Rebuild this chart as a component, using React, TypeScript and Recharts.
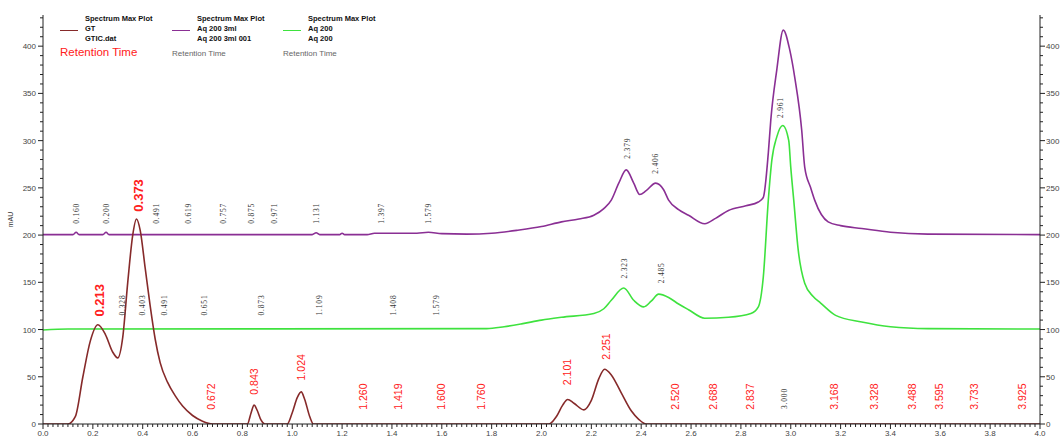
import React from 'react';
import { ComposedChart, Line, Scatter, XAxis, YAxis } from 'recharts';

// ---------- data ----------
const gtTime = [0, 0.10, 0.13, 0.16, 0.19, 0.22, 0.25, 0.28, 0.30, 0.32, 0.34, 0.36, 0.375, 0.39, 0.41, 0.43, 0.45, 0.47, 0.50, 0.53, 0.56, 0.60, 0.64, 0.68, 0.82, 0.835, 0.847, 0.86, 0.875, 0.89, 0.98, 1.0, 1.02, 1.036, 1.05, 1.07, 1.085, 2.03, 2.06, 2.085, 2.105, 2.13, 2.17, 2.2, 2.23, 2.253, 2.28, 2.32, 2.36, 2.39, 2.42, 4.0];
const gtValue = [0, 0, 8, 50, 88, 105, 95, 76, 70, 92, 150, 200, 217, 205, 165, 125, 90, 65, 44, 30, 19, 9, 3, 0, 0, 12, 20, 14, 4, 0, 0, 12, 28, 34, 26, 8, 0, 0, 8, 20, 26, 22, 15, 25, 48, 58, 52, 33, 14, 5, 0, 0];

const aq3mlTime = [0, 0.12, 0.133, 0.145, 0.24, 0.253, 0.265, 1.08, 1.096, 1.11, 1.19, 1.2, 1.21, 1.3, 1.33, 1.5, 1.546, 1.6, 1.7, 1.8, 1.9, 2.0, 2.08, 2.15, 2.21, 2.25, 2.28, 2.31, 2.34, 2.37, 2.394, 2.42, 2.458, 2.49, 2.51, 2.55, 2.59, 2.655, 2.7, 2.75, 2.82, 2.87, 2.89, 2.91, 2.92, 2.944, 2.97, 2.996, 3.016, 3.044, 3.056, 3.08, 3.096, 3.15, 3.2, 3.285, 3.4, 3.55, 4.0];
const aq3mlValue = [200.5, 200.5, 203, 200.5, 200.5, 203, 200.5, 200.5, 202.5, 200.5, 200.5, 202, 200.5, 200.5, 202, 202, 203, 201.5, 201, 202, 205, 209, 214, 217, 221, 228, 237, 255, 269, 255, 243, 247, 255, 248, 237, 227, 221, 212, 218, 226, 231, 235, 240, 287, 322, 375, 417, 396, 367, 311, 272, 250, 237, 214, 210, 207, 203, 201, 200.5];

const aq200Time = [0, 0.1, 1.78, 1.85, 1.92, 2.0, 2.08, 2.21, 2.25, 2.28, 2.33, 2.37, 2.41, 2.44, 2.47, 2.51, 2.55, 2.59, 2.655, 2.75, 2.84, 2.87, 2.89, 2.91, 2.924, 2.944, 2.968, 2.992, 3.0, 3.012, 3.03, 3.056, 3.09, 3.12, 3.18, 3.285, 3.4, 3.55, 4.0];
const aq200Value = [99.5, 100.5, 101, 103, 106, 110, 113, 117, 122, 131, 144, 131, 124, 130, 137.5, 134, 127, 121, 112, 113, 117, 124, 156, 237, 279, 304, 316, 300, 272, 237, 184, 149, 135, 128, 115, 108, 103, 101, 100.5];

const gtLabelTime = [0.225, 0.382, 0.675, 0.847, 1.036, 1.285, 1.426, 1.598, 1.759, 2.104, 2.26, 2.534, 2.687, 2.835, 3.173, 3.333, 3.486, 3.594, 3.735, 3.928];
const gtLabelValue = [131, 242, 29, 45, 60, 29, 29, 29, 29, 55, 82, 29, 29, 29, 29, 29, 29, 29, 29, 29];
const gtLabelText = ['0.213', '0.373', '0.672', '0.843', '1.024', '1.260', '1.419', '1.600', '1.760', '2.101', '2.251', '2.520', '2.688', '2.837', '3.168', '3.328', '3.488', '3.595', '3.733', '3.925'];
const gtBigLabels = ['0.213', '0.373'];

const aq3mlLabelTime = [0.133, 0.253, 0.454, 0.582, 0.723, 0.835, 0.928, 1.096, 1.357, 1.546, 2.345, 2.458, 2.96];
const aq3mlLabelValue = [223, 223, 223, 223, 223, 223, 223, 223, 223, 223, 292, 276, 335];
const aq3mlLabelText = ['0.160', '0.200', '0.491', '0.619', '0.757', '0.875', '0.971', '1.131', '1.397', '1.579', '2.379', '2.406', '2.961'];

const aq200LabelTime = [0.32, 0.40, 0.486, 0.647, 0.876, 1.108, 1.406, 1.578, 2.333, 2.482, 2.976];
const aq200LabelValue = [126, 126, 126, 126, 126, 126, 126, 126, 165, 160, 27];
const aq200LabelText = ['0.328', '0.403', '0.491', '0.651', '0.873', '1.109', '1.408', '1.579', '2.323', '2.485', '3.000'];

const xMajorTicks = [0, 0.2, 0.4, 0.6, 0.8, 1.0, 1.2, 1.4, 1.6, 1.8, 2.0, 2.2, 2.4, 2.6, 2.8, 3.0, 3.2, 3.4, 3.6, 3.8, 4.0];
const yMajorTicks = [0, 50, 100, 150, 200, 250, 300, 350, 400];
const xMinorStep = 0.02;
const yMinorStep = 10;

const seriesNames = [
  { title: 'Spectrum Max Plot', line1: 'GT', line2: 'GTIC.dat' },
  { title: 'Spectrum Max Plot', line1: 'Aq 200 3ml', line2: 'Aq 200 3ml 001' },
  { title: 'Spectrum Max Plot', line1: 'Aq 200', line2: 'Aq 200' },
];
const legendSubtitle = 'Retention Time';

// ---------- helpers ----------
const zip = (t: number[], v: number[]) => t.map((x, i) => ({ t: x, v: v[i] }));
const zipLabels = (t: number[], v: number[], s: string[]) => t.map((x, i) => ({ t: x, v: v[i], text: s[i] }));

const gtData = zip(gtTime, gtValue);
const aq3mlData = zip(aq3mlTime, aq3mlValue);
const aq200Data = zip(aq200Time, aq200Value);
const gtLabels = zipLabels(gtLabelTime, gtLabelValue, gtLabelText);
const aq3mlLabels = zipLabels(aq3mlLabelTime, aq3mlLabelValue, aq3mlLabelText);
const aq200Labels = zipLabels(aq200LabelTime, aq200LabelValue, aq200LabelText);

const xAllTicks: number[] = [];
for (let i = 0; i <= Math.round(4 / xMinorStep); i++) xAllTicks.push(Math.round(i * xMinorStep * 100) / 100);
const yAllTicks: number[] = [];
for (let v = 0; v <= 430; v += yMinorStep) yAllTicks.push(v);

const isMajorX = (v: number) => xMajorTicks.some((m) => Math.abs(m - v) < 1e-6);
const isMajorY = (v: number) => yMajorTicks.some((m) => Math.abs(m - v) < 1e-6);

const BROWN = '#862a2a';
const PURPLE = '#8a2f94';
const GREEN = '#3ee23e';
const RED = '#ff2020';
const AXIS = '#222';
const TICKTXT = '#444';
const FONT = '"Liberation Sans", Arial, sans-serif';

const XTick = (props: any) => {
  const { x, y, payload } = props;
  const major = isMajorX(payload.value);
  return (
    <g>
      <line x1={x} x2={x} y1={y} y2={y + (major ? 5 : 3)} stroke={AXIS} strokeWidth={1} />
      {major && (
        <text x={x} y={y + 12} textAnchor="middle" fontSize={8} fill={TICKTXT} fontFamily={FONT}>
          {payload.value.toFixed(1)}
        </text>
      )}
    </g>
  );
};

const YTickLeft = (props: any) => {
  const { x, y, payload } = props;
  const major = isMajorY(payload.value);
  return (
    <g>
      <line x1={x} x2={x - (major ? 5 : 3)} y1={y} y2={y} stroke={AXIS} strokeWidth={1} />
      {major && (
        <text x={x - 7} y={y + 3} textAnchor="end" fontSize={8} fill={TICKTXT} fontFamily={FONT}>
          {payload.value}
        </text>
      )}
    </g>
  );
};

const YTickRight = (props: any) => {
  const { x, y, payload } = props;
  const major = isMajorY(payload.value);
  return (
    <g>
      <line x1={x} x2={x + (major ? 5 : 3)} y1={y} y2={y} stroke={AXIS} strokeWidth={1} />
      {major && (
        <text x={x + 6} y={y + 3} textAnchor="start" fontSize={8} fill={TICKTXT} fontFamily={FONT}>
          {payload.value}
        </text>
      )}
    </g>
  );
};

const RedLabel = (props: any) => {
  const { cx, cy, payload } = props;
  const big = gtBigLabels.includes(payload.text);
  return (
    <text
      x={cx}
      y={cy}
      transform={`rotate(-90 ${cx} ${cy})`}
      textAnchor="middle"
      dominantBaseline="central"
      fontSize={big ? 13 : 10.5}
      fontWeight={big ? 'bold' : 'normal'}
      fill={RED}
      fontFamily={FONT}
    >
      {payload.text}
    </text>
  );
};

const GrayLabel = (props: any) => {
  const { cx, cy, payload } = props;
  return (
    <text
      x={cx}
      y={cy}
      transform={`rotate(-90 ${cx} ${cy})`}
      textAnchor="middle"
      dominantBaseline="central"
      fontSize={7.5}
      letterSpacing={0.8}
      fill="#333"
      fontFamily='"Liberation Serif", serif'
    >
      {payload.text}
    </text>
  );
};

const legendColors = [BROWN, PURPLE, GREEN];
const legendX = [60, 172, 283];

export default function App() {
  return (
    <div style={{ position: 'absolute', left: 0, top: 0, width: 1063, height: 437, background: '#fff' }}>
      <ComposedChart width={1063} height={437} margin={{ top: 15, right: 0, bottom: 0, left: 1 }}>
        <XAxis
          xAxisId="bottom"
          dataKey="t"
          type="number"
          domain={[0, 4]}
          ticks={xAllTicks}
          interval={0}
          allowDataOverflow
          height={13}
          tickSize={0}
          tickMargin={0}
          tickLine={false}
          tick={<XTick />}
          axisLine={{ stroke: AXIS }}
        />
        <XAxis
          xAxisId="top"
          orientation="top"
          type="number"
          domain={[0, 4]}
          height={0}
          tick={false}
          tickLine={false}
          axisLine={{ stroke: AXIS }}
        />
        <YAxis
          yAxisId="left"
          type="number"
          domain={[0, 433]}
          ticks={yAllTicks}
          interval={0}
          allowDataOverflow
          width={42}
          tickSize={0}
          tickMargin={0}
          tickLine={false}
          tick={<YTickLeft />}
          axisLine={{ stroke: AXIS }}
          label={{ value: 'mAU', angle: -90, position: 'insideLeft', offset: 10, style: { textAnchor: 'middle', fontSize: 7, fill: '#333', fontFamily: FONT } }}
        />
        <YAxis
          yAxisId="right"
          orientation="right"
          type="number"
          domain={[0, 433]}
          ticks={yAllTicks}
          interval={0}
          allowDataOverflow
          width={23}
          tickSize={0}
          tickMargin={0}
          tickLine={false}
          tick={<YTickRight />}
          axisLine={{ stroke: AXIS }}
        />
        <Line xAxisId="bottom" yAxisId="left" data={aq200Data} dataKey="v" type="monotone" dot={false} stroke={GREEN} strokeWidth={1.6} isAnimationActive={false} />
        <Line xAxisId="bottom" yAxisId="left" data={aq3mlData} dataKey="v" type="monotone" dot={false} stroke={PURPLE} strokeWidth={1.6} isAnimationActive={false} />
        <Line xAxisId="bottom" yAxisId="left" data={gtData} dataKey="v" type="monotone" dot={false} stroke={BROWN} strokeWidth={1.6} isAnimationActive={false} />
        <Scatter xAxisId="bottom" yAxisId="left" data={aq3mlLabels} dataKey="v" shape={<GrayLabel />} isAnimationActive={false} />
        <Scatter xAxisId="bottom" yAxisId="left" data={aq200Labels} dataKey="v" shape={<GrayLabel />} isAnimationActive={false} />
        <Scatter xAxisId="bottom" yAxisId="left" data={gtLabels} dataKey="v" shape={<RedLabel />} isAnimationActive={false} />
      </ComposedChart>
      {seriesNames.map((s, i) => (
        <div key={i} style={{ position: 'absolute', left: legendX[i], top: 14, fontFamily: FONT, color: '#111' }}>
          <div style={{ position: 'absolute', left: 25, top: 0, fontSize: 7.5, fontWeight: 'bold', whiteSpace: 'nowrap', lineHeight: '10px' }}>{s.title}</div>
          <div style={{ position: 'absolute', left: 0, top: 16, width: 18, height: 0, borderTop: `1.5px solid ${legendColors[i]}` }} />
          <div style={{ position: 'absolute', left: 25, top: 10, fontSize: 7.5, fontWeight: 'bold', whiteSpace: 'nowrap', lineHeight: '10px' }}>{s.line1}</div>
          <div style={{ position: 'absolute', left: 25, top: 20, fontSize: 7.5, fontWeight: 'bold', whiteSpace: 'nowrap', lineHeight: '10px' }}>{s.line2}</div>
          <div
            style={{
              position: 'absolute',
              left: 0,
              top: i === 0 ? 31 : 33,
              fontSize: i === 0 ? 11.5 : 8,
              color: i === 0 ? RED : '#666',
              whiteSpace: 'nowrap',
              lineHeight: '14px',
            }}
          >
            {legendSubtitle}
          </div>
        </div>
      ))}
    </div>
  );
}
